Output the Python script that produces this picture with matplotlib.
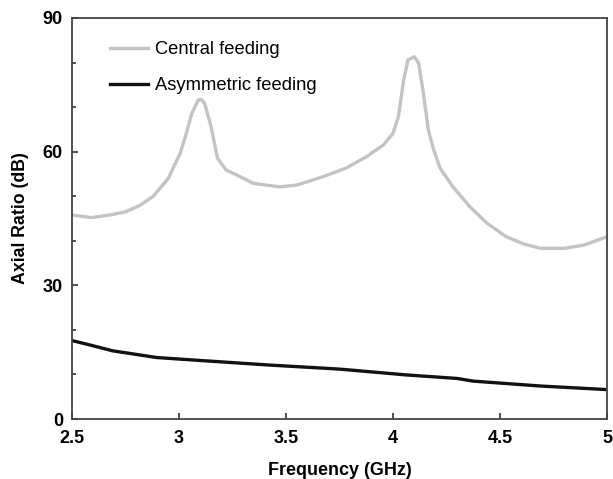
import matplotlib
matplotlib.use("Agg")
import matplotlib.pyplot as plt
from matplotlib.ticker import MultipleLocator

plt.rcParams['font.family'] = ['Liberation Sans', 'DejaVu Sans']

# Central feeding: axial ratio (dB) vs frequency (GHz)
central_freq = [2.50, 2.59, 2.68, 2.75, 2.82, 2.88, 2.95, 3.005, 3.03, 3.06, 3.09, 3.106,
                3.12, 3.15, 3.18, 3.22, 3.285, 3.347, 3.47, 3.55, 3.674, 3.78, 3.877,
                3.955, 4.00, 4.025, 4.05, 4.07, 4.10, 4.12, 4.14, 4.165, 4.19, 4.22,
                4.28, 4.36, 4.44, 4.53, 4.61, 4.69, 4.80, 4.89, 5.00]
central_ar = [45.8, 45.2, 45.8, 46.5, 48.0, 50.0, 54.0, 59.6, 63.4, 68.6, 71.6, 71.7,
              70.8, 65.6, 58.5, 55.9, 54.4, 52.9, 52.1, 52.5, 54.4, 56.3, 58.9,
              61.5, 64.1, 67.8, 76.1, 80.6, 81.3, 79.8, 73.8, 64.9, 60.4, 56.3,
              52.1, 47.6, 43.9, 40.9, 39.3, 38.3, 38.3, 39.0, 40.9]

# Asymmetric feeding
asym_freq = [2.50, 2.585, 2.69, 2.80, 2.895, 3.11, 3.425, 3.75, 4.06, 4.30, 4.375, 4.69, 5.00]
asym_ar = [17.6, 16.6, 15.3, 14.5, 13.8, 13.1, 12.1, 11.2, 9.9, 9.1, 8.5, 7.4, 6.6]

x_ticks = [2.5, 3, 3.5, 4, 4.5, 5]
x_tick_labels = ['2.5', '3', '3.5', '4', '4.5', '5']
y_ticks = [0, 30, 60, 90]

fig = plt.figure(figsize=(6.13, 4.79), dpi=100)
ax = fig.add_axes([72/613, 1 - 419/479, (607 - 72)/613, (419 - 18)/479])

ax.plot(central_freq, central_ar, color='#c3c3c3', lw=2.4, label='Central feeding',
        solid_joinstyle='round')
ax.plot(asym_freq, asym_ar, color='#111111', lw=2.4, label='Asymmetric feeding',
        solid_joinstyle='round')

ax.set_xlim(2.5, 5)
ax.set_ylim(0, 90)
ax.set_xticks(x_ticks)
ax.set_xticklabels(x_tick_labels)
ax.set_yticks(y_ticks)
ax.yaxis.set_minor_locator(MultipleLocator(10))

ax.tick_params(axis='both', which='both', direction='in', colors='#333333',
               labelcolor='black', labelsize=13)
ax.tick_params(axis='both', which='major', length=4, width=1.2)
ax.tick_params(axis='x', which='major', pad=8)
ax.tick_params(axis='y', which='major', pad=6.5)
ax.tick_params(axis='y', which='minor', length=3, width=1.2)
for lab in ax.get_xticklabels() + ax.get_yticklabels():
    lab.set_fontweight('bold')

for sp in ax.spines.values():
    sp.set_color('#444444')
    sp.set_linewidth(1.3)

ax.set_xlabel('Frequency (GHz)', fontsize=13, fontweight='bold', labelpad=11)
ax.set_ylabel('Axial Ratio (dB)', fontsize=12.8, fontweight='bold', labelpad=10)

ax.legend(loc='upper left', bbox_to_anchor=(0.071, 0.9425), frameon=False,
          fontsize=13.2, handlelength=2.1, handletextpad=0.33, labelspacing=1.04,
          borderpad=0, borderaxespad=0)

fig.savefig('out.png', dpi=100, facecolor='white')
